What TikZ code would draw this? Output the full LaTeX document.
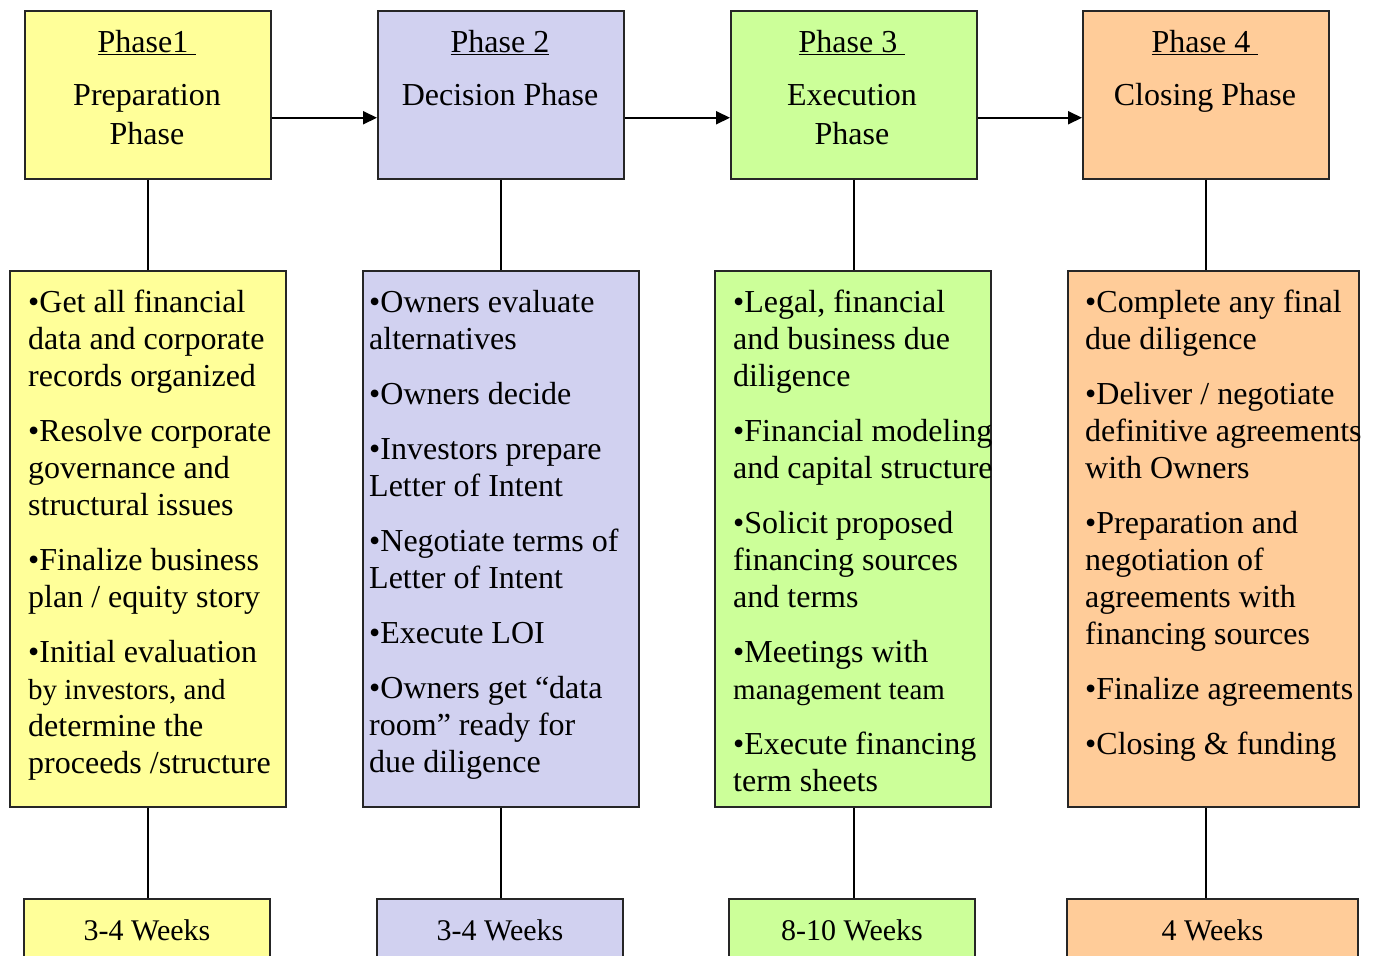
\documentclass[tikz,border=0pt]{standalone}
\usepackage{fontspec}
\setmainfont{Liberation Serif}
\usetikzlibrary{arrows.meta}

\definecolor{phyellow}{HTML}{FFFF99}
\definecolor{phlilac}{HTML}{D1D1F0}
\definecolor{phgreen}{HTML}{CCFF99}
\definecolor{phorange}{HTML}{FFCC99}

\newcommand{\headtext}[1]{\parbox[t]{240pt}{\centering\fontsize{32}{39}\selectfont #1}}
\newcommand{\tasktext}[1]{\parbox[t]{330pt}{\raggedright\fontsize{32}{37}\selectfont #1}}

\begin{document}
\begin{tikzpicture}[x=1pt,y=-1pt,>={Triangle[length=14pt,width=13pt]},
  box/.style={draw=black!85,line width=1.5pt,inner sep=0pt},
  phasebox/.style={box,anchor=north west,minimum width=246pt,minimum height=168pt},
  taskbox/.style={box,anchor=north west,minimum width=276pt,minimum height=536pt},
  weekbox/.style={box,anchor=north,minimum width=246pt,text height=42pt,text depth=38pt,
    font=\fontsize{30}{36}\selectfont},
  head/.style={anchor=base,inner sep=0pt},
  tasks/.style={anchor=base west,inner sep=0pt},
  link/.style={line width=2pt}]
  \useasboundingbox (0,0) rectangle (1374,956);
  \clip (0,0) rectangle (1374,956);

  % phases
  \node[phasebox,fill=phyellow] (ph1) at (24,10) {};
  \node[phasebox,fill=phlilac] (ph2) at (377,10) {};
  \node[phasebox,fill=phgreen] (ph3) at (730,10) {};
  \node[phasebox,fill=phorange] (ph4) at (1082,10) {};
  \node[head] (ph1t) at (147,52) {\headtext{\underline{Phase1~}\\[14pt]Preparation\\Phase}};
  \node[head] (ph2t) at (500,52) {\headtext{\underline{Phase 2}\\[14pt]Decision Phase}};
  \node[head] (ph3t) at (852,52) {\headtext{\underline{Phase 3~}\\[14pt]Execution\\Phase}};
  \node[head] (ph4t) at (1205,52) {\headtext{\underline{Phase 4~}\\[14pt]Closing Phase}};

  \draw[link,->] ([yshift=-23pt]ph1.east) -- ([yshift=-23pt]ph2.west);
  \draw[link,->] ([yshift=-23pt]ph2.east) -- ([yshift=-23pt]ph3.west);
  \draw[link,->] ([yshift=-23pt]ph3.east) -- ([yshift=-23pt]ph4.west);

  % tasks
  \node[taskbox,fill=phyellow] (tk1) at (9,270) {};
  \node[taskbox,fill=phlilac] (tk2) at (362,270) {};
  \node[taskbox,fill=phgreen] (tk3) at (714,270) {};
  \node[taskbox,fill=phorange,minimum width=291pt] (tk4) at (1067,270) {};

  \node[tasks] (tk1t) at (28,312) {\tasktext{•Get all financial\\data and corporate\\records organized\\[18pt]
    •Resolve corporate\\governance and\\structural issues\\[18pt]
    •Finalize business\\plan / equity story\\[18pt]
    •Initial evaluation\\{\fontsize{29}{37}\selectfont by investors, and}\\determine the\\proceeds /structure}};
  \node[tasks] (tk2t) at (369,312) {\tasktext{•Owners evaluate\\alternatives\\[18pt]
    •Owners decide\\[18pt]
    •Investors prepare\\Letter of Intent\\[18pt]
    •Negotiate terms of\\Letter of Intent\\[18pt]
    •Execute LOI\\[18pt]
    •Owners get “data\\room” ready for\\due diligence}};
  \node[tasks] (tk3t) at (733,312) {\tasktext{•Legal, financial\\and business due\\diligence\\[18pt]
    •Financial modeling\\and capital structure\\[18pt]
    •Solicit proposed\\financing sources\\and terms\\[18pt]
    •Meetings with\\{\fontsize{29}{37}\selectfont management team}\\[18pt]
    •Execute financing\\term sheets}};
  \node[tasks] (tk4t) at (1085,312) {\tasktext{•Complete any final\\due diligence\\[18pt]
    •Deliver / negotiate\\definitive agreements\\with Owners\\[18pt]
    •Preparation and\\negotiation of\\agreements with\\financing sources\\[18pt]
    •Finalize agreements\\[18pt]
    •Closing \& funding}};

  % durations
  \node[weekbox,fill=phyellow] (wk1) at (147,898) {3-4 Weeks};
  \node[weekbox,fill=phlilac] (wk2) at (500,898) {3-4 Weeks};
  \node[weekbox,fill=phgreen] (wk3) at (852,898) {8-10 Weeks};
  \node[weekbox,fill=phorange,minimum width=291pt] (wk4) at (1212.5,898) {4 Weeks};

  \foreach \i in {1,...,4}{
    \draw[link] (ph\i.south) -- (ph\i.south |- tk\i.north);
    \draw[link] (ph\i.south |- tk\i.south) -- (ph\i.south |- wk\i.north);
  }
\end{tikzpicture}
\end{document}
